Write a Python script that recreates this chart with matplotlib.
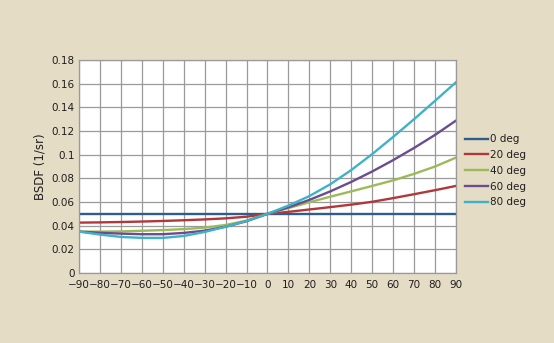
import numpy as np
import matplotlib
matplotlib.use('Agg')
import matplotlib.pyplot as plt

angles = [-90, -80, -70, -60, -50, -40, -30, -20, -10, 0, 10, 20, 30, 40, 50, 60, 70, 80, 90]

bsdf_0 = [0.050] * 19
bsdf_20 = [0.0426, 0.0428, 0.0431, 0.0435, 0.0440, 0.0446, 0.0453, 0.0462, 0.0476, 0.050,
           0.0517, 0.0537, 0.0557, 0.0578, 0.0602, 0.0633, 0.0666, 0.0700, 0.0736]
bsdf_40 = [0.0350, 0.0350, 0.0352, 0.0357, 0.0363, 0.0371, 0.0384, 0.0406, 0.0443, 0.050,
           0.0549, 0.0598, 0.0645, 0.0690, 0.0736, 0.0783, 0.0838, 0.0900, 0.0975]
bsdf_60 = [0.0350, 0.0340, 0.0333, 0.0328, 0.0328, 0.0339, 0.0358, 0.0391, 0.0438, 0.050,
           0.0555, 0.0618, 0.0690, 0.0770, 0.0858, 0.0954, 0.1057, 0.1167, 0.1288]
bsdf_80 = [0.0350, 0.0325, 0.0305, 0.0297, 0.0297, 0.0313, 0.0347, 0.0391, 0.0440, 0.050,
           0.0570, 0.0650, 0.0750, 0.0870, 0.1005, 0.1150, 0.1300, 0.1455, 0.1612]

series = [('0 deg', bsdf_0, '#2d5d8a'),
          ('20 deg', bsdf_20, '#b2373b'),
          ('40 deg', bsdf_40, '#9cbb58'),
          ('60 deg', bsdf_60, '#6b4c8e'),
          ('80 deg', bsdf_80, '#3fb2c8')]

bg = '#e5dcc5'
fig = plt.figure(figsize=(5.54, 3.43), dpi=100, facecolor=bg)
ax = fig.add_axes([0.1426, 0.204, 0.6804, 0.621])
ax.set_facecolor('white')

for name, vals, col in series:
    ax.plot(angles, vals, color=col, linewidth=1.7, label=name)

ax.set_xlim(-90, 90)
ax.set_ylim(0, 0.18)
ax.set_xticks(np.arange(-90, 91, 10))
ax.set_xticklabels([str(a).replace('-', '\u2212') for a in range(-90, 91, 10)])
ax.set_yticks(np.arange(0, 0.181, 0.02))
ax.set_yticklabels(['0', '0.02', '0.04', '0.06', '0.08', '0.1', '0.12', '0.14', '0.16', '0.18'])
ax.grid(True, color='#9a9a9a', linewidth=0.9)
ax.set_axisbelow(True)
for s in ax.spines.values():
    s.set_color('#9a9a9a')
    s.set_linewidth(0.9)
ax.tick_params(length=0, labelsize=7.5, colors='#1e1e1e')
ax.tick_params(axis='x', pad=5)
ax.tick_params(axis='y', pad=3)
ax.set_ylabel('BSDF (1/sr)', fontsize=8.5, color='#1e1e1e', labelpad=4)

leg = ax.legend(loc='center left', bbox_to_anchor=(1.0, 0.48), frameon=False,
                fontsize=7.5, handlelength=2.2, labelspacing=0.55, handletextpad=0.2)
for t in leg.get_texts():
    t.set_color('#1e1e1e')

fig.savefig('out.png', dpi=100, facecolor=bg)
